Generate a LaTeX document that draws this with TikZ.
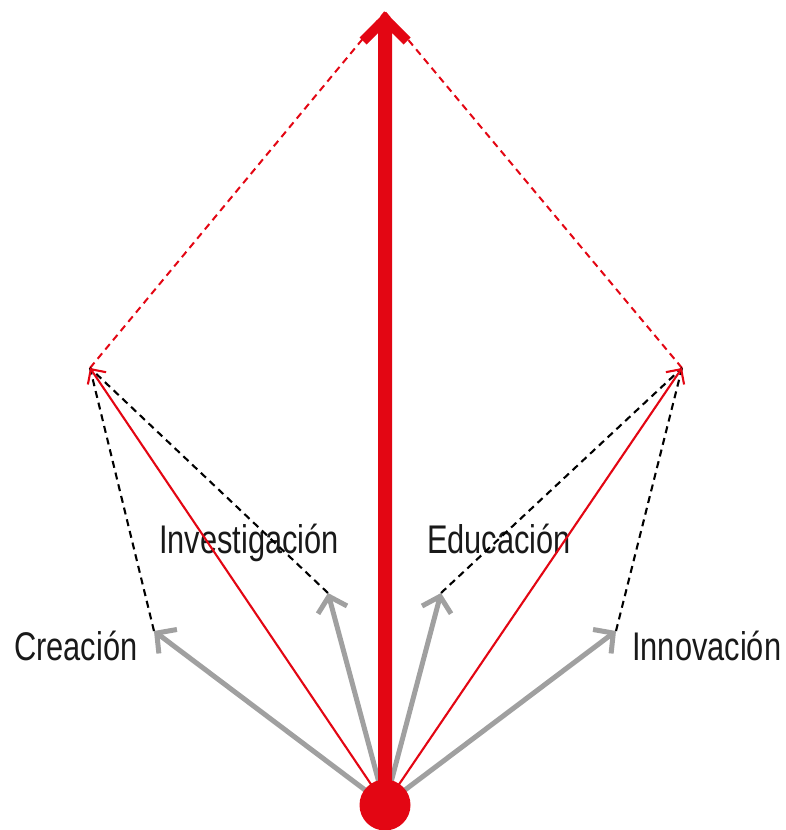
\documentclass[tikz,border=0pt]{standalone}
\usepackage{fontspec}
\setmainfont{Liberation Sans}[FakeStretch=0.77]
\usetikzlibrary{arrows.meta,calc}
\definecolor{bred}{HTML}{E30613}
\definecolor{bgray}{HTML}{A0A0A0}
\tikzset{
  lbl/.style={anchor=base west,inner sep=0pt,font=\fontsize{40}{46}\selectfont,text=black!90},
  graydir/.style={draw=bgray,line width=5pt,-{Straight Barb[length=14pt,width=30pt,line width=5pt]}},
  redthin/.style={draw=bred,line width=2.1pt,-{Straight Barb[length=11pt,width=22pt,line width=2.1pt]}},
  reddash/.style={draw=bred,line width=2pt,dash pattern=on 7pt off 5pt},
  blackdash/.style={draw=black,line width=2.1pt,dash pattern=on 7pt off 5pt},
}
\begin{document}
\begin{tikzpicture}[x=1pt,y=-1pt]
\useasboundingbox (0,0) rectangle (786,830);
% key points
\coordinate (O) at (385,805);
\coordinate (top) at (385,12);
\coordinate (L) at (90,368);
\coordinate (R) at (682,368);
\coordinate (C) at (154,631);
\coordinate (I) at (328,593);
\coordinate (E) at (441,593);
\coordinate (N) at (616,631);
% labels
\node[lbl] (tC) at (14,660) {Creación};
\node[lbl] (tI) at (159,553) {Investigación};
\node[lbl] (tE) at (427,553) {Educación};
\node[lbl] (tN) at (632,660) {Innovación};
% dashed
\draw[reddash] (L) -- (top);
\draw[reddash] (R) -- (top);
\draw[blackdash] (C) -- (L);
\draw[blackdash] (I) -- (L);
\draw[blackdash] (E) -- (R);
\draw[blackdash] (N) -- (R);
% thin red
\draw[redthin] (O) -- (L);
\draw[redthin] (O) -- (R);
% gray arrows
\draw[graydir] (O) -- (C);
\draw[graydir] (O) -- (I);
\draw[graydir] (O) -- (E);
\draw[graydir] (O) -- (N);
% big arrow
\fill[bred] ($(O)+(-7,0)$) -- ($(top)+(-7,21)$) -- ($(top)+(-18.5,32.5)$) -- ($(top)+(-25.5,25.5)$) -- (top)
  -- ($(top)+(25.5,25.5)$) -- ($(top)+(18.5,32.5)$) -- ($(top)+(7,21)$) -- ($(O)+(7,0)$) -- cycle;
\fill[bred] (O) circle (25.5);
\end{tikzpicture}
\end{document}
